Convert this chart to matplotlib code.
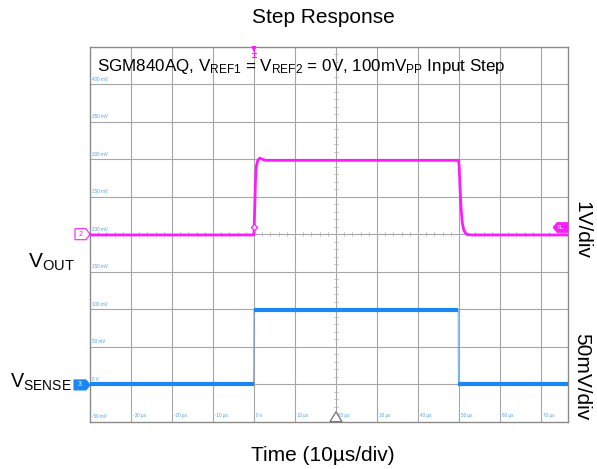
import matplotlib
matplotlib.use('Agg')
import matplotlib.pyplot as plt
import numpy as np
from matplotlib.patches import Polygon

plt.rcParams['font.family'] = ['Liberation Sans', 'DejaVu Sans']
plt.rcParams['mathtext.fontset'] = 'custom'
plt.rcParams['mathtext.rm'] = 'Liberation Sans'
plt.rcParams['mathtext.it'] = 'Liberation Sans'
plt.rcParams['mathtext.bf'] = 'Liberation Sans'

# scope screen in display units: time in us (10us/div), level in mV of the 50mV/div grid
vout_t = [-40, -0.1, 0.0, 0.15, 0.35, 0.55, 0.9, 1.4, 2.0, 2.8, 10, 30, 49.9,
          50.05, 50.25, 50.5, 50.8, 51.2, 51.8, 53, 65, 76.6]
vout_mv = [199, 199, 201, 230, 270, 290, 298, 301.5, 300, 298.5, 298.5, 298.5, 298.5,
           290, 262, 235, 215, 205, 200, 199, 199, 199]

vsense_t = [-40, -10, -0.1, 0.0, 20, 49.8, 49.85, 65, 76.6]
vsense_mv = [0.5, 0.5, 0.5, 99.5, 99.5, 99.5, 0.5, 0.5, 0.5]

time_ticks = [-30, -20, -10, 0, 10, 20, 30, 40, 50, 60, 70]
time_labels = ['-30 µs', '-20 µs', '-10 µs', '0 s', '10 µs', '20 µs',
               '30 µs', '40 µs', '50 µs', '60 µs', '70 µs']
level_ticks = [400, 350, 300, 250, 200, 150, 100, 50, 0, -50]
level_labels = ['400 mV', '350 mV', '300 mV', '250 mV', '200 mV', '150 mV',
                '100 mV', '50 mV', '0 V', '-50 mV']

trig_t = 0
trig_mv = 209
center_t = 20
center_mv = 200

MAG = '#ff1aff'
BLUE = '#1c86f2'
LBL = '#4a9ff5'
GRID = '#a6a6a6'

# pixel sizes of the screen
PX_T = 4.1    # px per us
PX_V = 0.75   # px per mV

fig = plt.figure(figsize=(5.97, 4.69), dpi=100)
ax = fig.add_axes([90/597, 1-421.7/469, 478/597, 375/469])
ax.set_xlim(-40, -40 + 478/PX_T)
ax.set_ylim(-50, 450)
ax.set_xticks([])
ax.set_yticks([])
for s in ax.spines.values():
    s.set_color('#8a8a8a')
    s.set_linewidth(1.0)

# grid
for x in np.arange(-30, 80, 10):
    ax.axvline(x, color=GRID, lw=0.8, zorder=1)
for y in np.arange(0, 450, 50):
    ax.axhline(y, color=GRID, lw=0.8, zorder=1)
# minor ticks on the center lines
for x in np.arange(-40, 77, 2):
    ax.plot([x, x], [center_mv - 1.8/PX_V, center_mv + 1.8/PX_V], color='#b0b0b0', lw=0.5, zorder=1)
for y in np.arange(-50, 451, 10):
    ax.plot([center_t - 1.8/PX_T, center_t + 1.8/PX_T], [y, y], color='#b0b0b0', lw=0.5, zorder=1)

# small screen labels
for lv, lb in zip(level_ticks, level_labels):
    ax.text(-40 + 2/PX_T, lv + 2.5/PX_V, lb, fontsize=3.3, color=LBL, ha='left', va='bottom', zorder=2)
for tt, lb in zip(time_ticks, time_labels):
    ax.text(tt + 2/PX_T, -50 + 6.5/PX_V, lb, fontsize=3.3, color=LBL, ha='left', va='center', zorder=2)

# traces
ax.plot(vout_t, vout_mv, color=MAG, lw=2.0, zorder=4, solid_joinstyle='round')

st = np.array(vsense_t, float)
sv = np.array(vsense_mv, float)
ax.plot(st, sv, color=BLUE, lw=0.8, alpha=0.6, zorder=3)
jumps = np.where(np.abs(np.diff(sv)) > 20)[0] + 1
ax.plot(np.insert(st, jumps, np.nan), np.insert(sv, jumps, np.nan),
        color=BLUE, lw=3.0, zorder=4, solid_capstyle='butt')

# trigger level diamond
ax.plot([trig_t], [trig_mv], marker='D', ms=3.2, mfc='white', mec=MAG, mew=0.8, zorder=5)

# trigger marker at top
ax.add_patch(Polygon([(trig_t - 1.5/PX_T*1.2, 450), (trig_t + 1.5/PX_T*1.2, 450), (trig_t, 450 - 4.5/PX_V)],
                     closed=True, color=MAG, zorder=6, clip_on=False))
ax.plot([trig_t, trig_t], [450 - 4/PX_V, 450 - 10/PX_V], color=MAG, lw=0.8, zorder=6)
for yy in [450 - 6/PX_V, 450 - 10/PX_V]:
    ax.plot([trig_t - 2/PX_T, trig_t + 2/PX_T], [yy, yy], color=MAG, lw=0.8, zorder=6)

# trigger position triangle at bottom
ax.add_patch(Polygon([(center_t - 6/PX_T, -50), (center_t + 6/PX_T, -50), (center_t, -50 + 10/PX_V)],
                     closed=True, fc='white', ec='#707070', lw=0.9, zorder=6, clip_on=False))

# channel markers on the left
x0 = -40 - 15/PX_T
ax.add_patch(Polygon([(x0, 200 - 5.5/PX_V), (-40 - 4/PX_T, 200 - 5.5/PX_V), (-40, 200),
                      (-40 - 4/PX_T, 200 + 5.5/PX_V), (x0, 200 + 5.5/PX_V)],
                     closed=True, fc='white', ec=MAG, lw=0.8, zorder=6, clip_on=False))
ax.text(x0 + 5.5/PX_T, 200, '2', fontsize=5, color=MAG, ha='center', va='center', zorder=7)
x0 = -40 - 16/PX_T
ax.add_patch(Polygon([(x0, -1 - 5/PX_V), (-40 - 4/PX_T, -1 - 5/PX_V), (-40, -1),
                      (-40 - 4/PX_T, -1 + 5/PX_V), (x0, -1 + 5/PX_V)],
                     closed=True, fc=BLUE, ec=BLUE, lw=0.8, zorder=6, clip_on=False))
ax.text(x0 + 6/PX_T, -1, '3', fontsize=5, color='white', ha='center', va='center', zorder=7)

# trigger level marker on the right
xr = -40 + 478/PX_T
ax.add_patch(Polygon([(xr, trig_mv - 5/PX_V), (xr - 11/PX_T, trig_mv - 5/PX_V), (xr - 15/PX_T, trig_mv),
                      (xr - 11/PX_T, trig_mv + 5/PX_V), (xr, trig_mv + 5/PX_V)],
                     closed=True, fc=MAG, ec=MAG, lw=0.5, zorder=6, clip_on=False))
ax.text(xr - 7/PX_T, trig_mv, 'TL', fontsize=4.5, color='white', ha='center', va='center', zorder=7)

# texts
fig.text(323/597, 1 - 23/469, 'Step Response', fontsize=15, ha='center', va='baseline')
fig.text(323/597, 1 - 461/469, 'Time (10µs/div)', fontsize=15, ha='center', va='baseline')
fig.text(97/597, 1 - 71.5/469,
         r'SGM840AQ, $\mathrm{V_{REF1}}$ = $\mathrm{V_{REF2}}$ = 0V, 100m$\mathrm{V_{PP}}$ Input Step',
         fontsize=12.25, ha='left', va='baseline')
fig.text(28/597, 1 - 268/469, r'$\mathrm{V_{OUT}}$', fontsize=15, ha='left', va='baseline')
fig.text(10/597, 1 - 388/469, r'$\mathrm{V_{SENSE}}$', fontsize=14.2, ha='left', va='baseline')
fig.text(582/597, 1 - 230/469, '1V/div', fontsize=15, rotation=270, ha='center', va='center')
fig.text(582/597, 1 - 377/469, '50mV/div', fontsize=15, rotation=270, ha='center', va='center')

fig.savefig('out.png', dpi=100)
